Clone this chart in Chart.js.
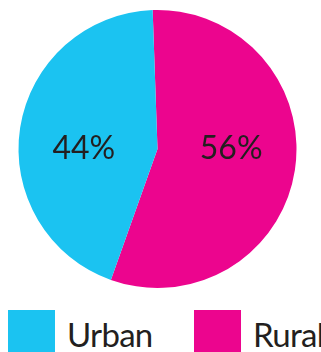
<!DOCTYPE html>
<html>
<head>
<meta charset="utf-8">
<script src="https://cdn.jsdelivr.net/npm/chart.js@4"></script>
<style>
  html, body { margin: 0; padding: 0; background: #fff; overflow: hidden; }
  #wrap { position: relative; width: 321px; height: 352px; overflow: hidden; }
  #chartBox { position: absolute; left: 0; top: 0; width: 321px; height: 290px; }
  #legend { position: absolute; left: 8px; top: 310px; width: 340px; display: flex; white-space: nowrap;
            font-family: Lato, sans-serif; font-size: 33px; letter-spacing: -0.7px; color: #231F20; }
  .item { display: flex; align-items: flex-start; flex: none; }
  .item:first-child { width: 186px; }
  .swatch { width: 47px; height: 42px; margin-right: 12px; }
  .item span { line-height: 42px; margin-top: 3px; }
</style>
</head>
<body>
<div id="wrap">
  <div id="chartBox"><canvas id="pie"></canvas></div>
  <div id="legend"></div>
</div>
<script>
const labels = ['Rural', 'Urban'];
const shares = [56, 44];
const colors = ['#EC058E', '#1BC3F1'];

// percent text, set left or right of centre depending on the slice side
const sliceText = {
  id: 'sliceText',
  afterDatasetsDraw(chart) {
    const ctx = chart.ctx;
    const meta = chart.getDatasetMeta(0);
    ctx.save();
    ctx.font = '32px Lato';
    ctx.fillStyle = '#231F20';
    ctx.textAlign = 'center';
    ctx.textBaseline = 'middle';
    meta.data.forEach((arc, i) => {
      const mid = (arc.startAngle + arc.endAngle) / 2;
      const side = Math.cos(mid) >= 0 ? 1 : -1;
      ctx.fillText(shares[i] + '%', arc.x + side * arc.outerRadius * 0.53, arc.y);
    });
    ctx.restore();
  }
};

const chart = new Chart(document.getElementById('pie'), {
  type: 'pie',
  data: {
    labels: labels,
    datasets: [{
      data: shares,
      backgroundColor: colors,
      borderWidth: 0
    }]
  },
  options: {
    responsive: true,
    maintainAspectRatio: false,
    animation: false,
    rotation: -2,
    layout: { padding: { top: 10, right: 6, bottom: 2 } },
    plugins: {
      tooltip: { enabled: false },
      legend: { display: false }
    }
  },
  plugins: [sliceText]
});

// legend below, Urban first
const legend = document.getElementById('legend');
[1, 0].forEach(i => {
  const item = document.createElement('div');
  item.className = 'item';
  const sw = document.createElement('div');
  sw.className = 'swatch';
  sw.style.background = colors[i];
  const txt = document.createElement('span');
  txt.textContent = labels[i];
  item.appendChild(sw);
  item.appendChild(txt);
  legend.appendChild(item);
});
</script>
</body>
</html>
